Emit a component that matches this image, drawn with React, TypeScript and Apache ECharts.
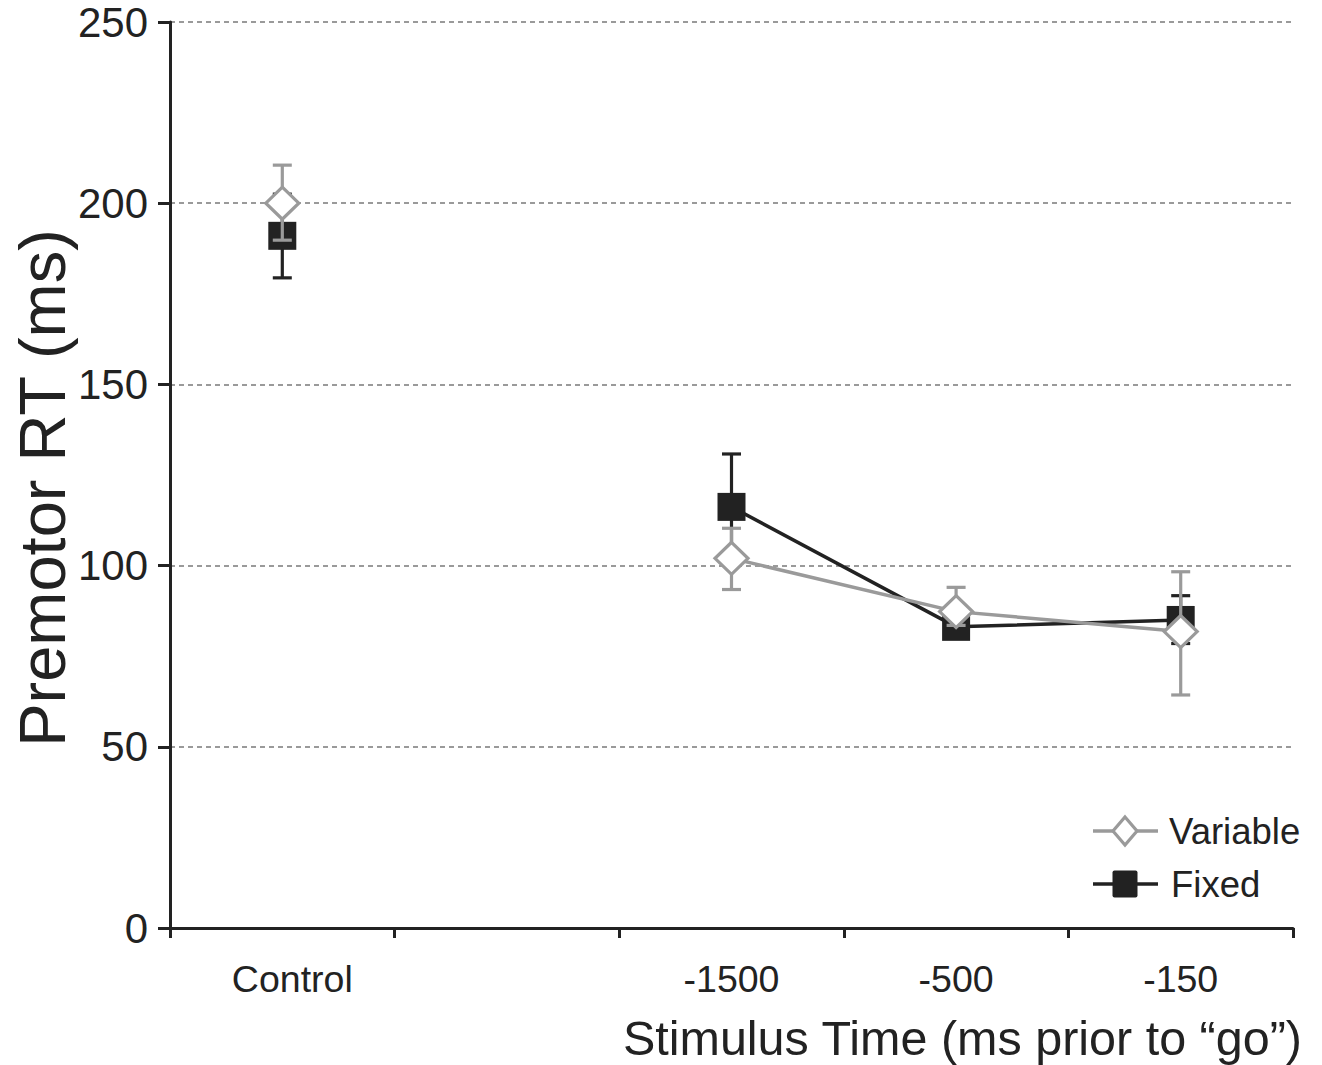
import React, { useEffect, useRef } from "react";
import * as echarts from "echarts";

const categories = ["Control", "", "-1500", "-500", "-150"];
const yTicks = [0, 50, 100, 150, 200, 250];

const variableMean = [200, null, 102, 87.3, 81.8];
const variableLow = [189.8, null, 93.4, 83.5, 64.3];
const variableHigh = [210.5, null, 110.3, 94.0, 98.3];

const fixedMean = [191, null, 116.2, 83.1, 85];
const fixedLow = [179.4, null, 101.6, 80, 78.5];
const fixedHigh = [202.5, null, 130.8, 86, 91.7];

const legendNames = ["Variable", "Fixed"];

const GRAY = "#9a9a9a";
const BLACK = "#222222";
const FONT = "'Liberation Sans', Arial, Helvetica, sans-serif";

function errorSeries(low: (number | null)[], high: (number | null)[], color: string, z: number) {
  const data: number[][] = [];
  low.forEach((l, i) => {
    if (l != null && high[i] != null) data.push([i, l, high[i] as number]);
  });
  return {
    type: "custom",
    z,
    silent: true,
    encode: { x: 0, y: [1, 2] },
    data,
    renderItem: (params: any, api: any) => {
      const x = api.value(0);
      const lo = api.coord([x, api.value(1)]);
      const hi = api.coord([x, api.value(2)]);
      const hw = 9.5;
      const st = { stroke: color, lineWidth: 3.2 };
      return {
        type: "group",
        children: [
          { type: "line", shape: { x1: lo[0], y1: lo[1], x2: hi[0], y2: hi[1] }, style: st },
          { type: "line", shape: { x1: lo[0] - hw, y1: lo[1], x2: lo[0] + hw, y2: lo[1] }, style: st },
          { type: "line", shape: { x1: hi[0] - hw, y1: hi[1], x2: hi[0] + hw, y2: hi[1] }, style: st },
        ],
      };
    },
  };
}

export default function App() {
  const ref = useRef<HTMLDivElement>(null);
  useEffect(() => {
    document.body.style.margin = "0";
    if (!ref.current) return;
    const chart = echarts.init(ref.current, null, { renderer: "svg" });
    const lx1 = 1093, lx2 = 1158, lcx = 1125;
    const ly1 = 831, ly2 = 884;
    chart.setOption({
      animation: false,
      backgroundColor: "#ffffff",
      grid: { left: 170, right: 29, top: 22, bottom: 137, containLabel: false },
      xAxis: {
        type: "category",
        data: categories,
        boundaryGap: true,
        axisLine: { lineStyle: { color: BLACK, width: 3 } },
        axisTick: { show: true, length: 10, interval: 0, lineStyle: { color: BLACK, width: 3 } },
        axisLabel: {
          interval: 0,
          margin: 32,
          fontSize: 37.5,
          color: BLACK,
          fontFamily: FONT,
          formatter: (v: string) => (v === categories[0] ? "{c|" + v + "}" : v),
          rich: { c: { fontSize: 37.5, color: BLACK, fontFamily: FONT, padding: [0, 0, 0, 20] } },
        },
        splitLine: { show: false },
      },
      yAxis: {
        type: "value",
        min: yTicks[0],
        max: yTicks[yTicks.length - 1],
        interval: 50,
        axisLine: { show: true, lineStyle: { color: BLACK, width: 3 } },
        axisTick: { show: true, length: 12, lineStyle: { color: BLACK, width: 3 } },
        axisLabel: { margin: 22, fontSize: 42, color: BLACK, fontFamily: FONT },
        splitLine: { show: true, lineStyle: { color: GRAY, width: 2, type: [5, 4] } },
      },
      graphic: [
        {
          type: "text",
          x: 42,
          y: 488,
          rotation: Math.PI / 2,
          style: {
            text: "Premotor RT (ms)",
            fontSize: 65,
            fill: BLACK,
            fontFamily: FONT,
            textAlign: "center",
            textVerticalAlign: "middle",
          },
        },
        {
          type: "text",
          x: 1302,
          y: 1038,
          style: {
            text: "Stimulus Time (ms prior to \u201Cgo\u201D)",
            fontSize: 48.5,
            fill: BLACK,
            fontFamily: FONT,
            textAlign: "right",
            textVerticalAlign: "middle",
          },
        },
        { type: "line", shape: { x1: lx1, y1: ly1, x2: lx2, y2: ly1 }, style: { stroke: GRAY, lineWidth: 3.5 } },
        {
          type: "polygon",
          shape: { points: [[lcx, ly1 - 14], [lcx + 12, ly1], [lcx, ly1 + 14], [lcx - 12, ly1]] },
          style: { fill: "#ffffff", stroke: GRAY, lineWidth: 3.2 },
        },
        {
          type: "text",
          x: 1169,
          y: ly1,
          style: { text: legendNames[0], fontSize: 36.5, fill: BLACK, fontFamily: FONT, textVerticalAlign: "middle" },
        },
        { type: "line", shape: { x1: lx1, y1: ly2, x2: lx2, y2: ly2 }, style: { stroke: BLACK, lineWidth: 3.5 } },
        {
          type: "rect",
          shape: { x: lcx - 12.5, y: ly2 - 13.5, width: 25, height: 27, r: 2 },
          style: { fill: BLACK },
        },
        {
          type: "text",
          x: 1171,
          y: ly2,
          style: { text: legendNames[1], fontSize: 36.5, fill: BLACK, fontFamily: FONT, textVerticalAlign: "middle" },
        },
      ],
      series: [
        errorSeries(fixedLow, fixedHigh, BLACK, 1),
        {
          name: legendNames[1],
          type: "line",
          z: 2,
          data: fixedMean,
          connectNulls: false,
          symbol: "rect",
          symbolSize: 28,
          lineStyle: { color: BLACK, width: 3.5 },
          itemStyle: { color: BLACK },
        },
        errorSeries(variableLow, variableHigh, GRAY, 3),
        {
          name: legendNames[0],
          type: "line",
          z: 4,
          data: variableMean,
          connectNulls: false,
          symbol: "diamond",
          symbolSize: [33, 32],
          lineStyle: { color: GRAY, width: 3.5 },
          itemStyle: { color: "#ffffff", borderColor: GRAY, borderWidth: 3.2 },
        },
      ],
    });
    return () => chart.dispose();
  }, []);
  return <div ref={ref} style={{ width: 1322, height: 1065 }} />;
}
